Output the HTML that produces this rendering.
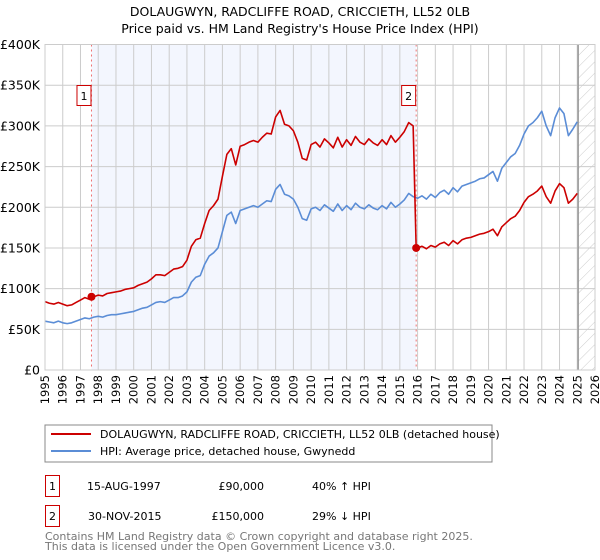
<!DOCTYPE html>
<html><head><meta charset="utf-8"><style>
body{margin:0;background:#fff;width:600px;height:560px;overflow:hidden;font-family:"Liberation Sans","DejaVu Sans",sans-serif;}
svg{position:absolute;left:0;top:0}
</style></head><body>
<svg id="chart" width="600" height="560" font-family="'DejaVu Sans','Liberation Sans',sans-serif">
<text x="300" y="16" text-anchor="middle" font-size="12.5">DOLAUGWYN, RADCLIFFE ROAD, CRICCIETH, LL52 0LB</text>
<text x="300" y="33" text-anchor="middle" font-size="12.5">Price paid vs. HM Land Registry's House Price Index (HPI)</text>
<defs><pattern id="hatch" width="8" height="8" patternUnits="userSpaceOnUse" patternTransform="rotate(45)"><line x1="0" y1="0" x2="0" y2="8" stroke="#ccc" stroke-width="1"/></pattern></defs>
<g id="grid"></g><g id="marks"></g><g id="axes"></g>
<rect x="45" y="425" width="447" height="37" fill="#fff" stroke="#888"/>
<line x1="51" y1="434" x2="91" y2="434" stroke="#cc0000" stroke-width="2"/>
<text x="100" y="438" font-size="11">DOLAUGWYN, RADCLIFFE ROAD, CRICCIETH, LL52 0LB (detached house)</text>
<line x1="51" y1="451" x2="91" y2="451" stroke="#5b8dd6" stroke-width="2"/>
<text x="100" y="455" font-size="11">HPI: Average price, detached house, Gwynedd</text>
<rect x="45.5" y="475.5" width="14" height="21" fill="#fff" stroke="#cc0000"/>
<text x="52.5" y="490" font-size="11" text-anchor="middle">1</text>
<text x="87" y="490" font-size="11">15-AUG-1997</text>
<text x="264" y="490" font-size="11" text-anchor="end">£90,000</text>
<text x="312" y="490" font-size="11">40% ↑ HPI</text>
<rect x="45.5" y="505.5" width="14" height="21" fill="#fff" stroke="#cc0000"/>
<text x="52.5" y="520" font-size="11" text-anchor="middle">2</text>
<text x="88" y="520" font-size="11">30-NOV-2015</text>
<text x="264" y="520" font-size="11" text-anchor="end">£150,000</text>
<text x="312" y="520" font-size="11">29% ↓ HPI</text>
<text x="45" y="540" font-size="11" fill="#777">Contains HM Land Registry data © Crown copyright and database right 2025.</text>
<text x="45" y="550" font-size="11" fill="#777">This data is licensed under the Open Government Licence v3.0.</text>
</svg>
<script>
const yTicks=[0,50,100,150,200,250,300,350,400];
const yTickLabels=["£0","£50K","£100K","£150K","£200K","£250K","£300K","£350K","£400K"];
const xYears=[1995,1996,1997,1998,1999,2000,2001,2002,2003,2004,2005,2006,2007,2008,2009,2010,2011,2012,2013,2014,2015,2016,2017,2018,2019,2020,2021,2022,2023,2024,2025,2026];
const hpiStart=1995.0;
const hpiValues=[60,59,58,60,58,57,58,60,62,64,63,65,66,65,67,68,68,69,70,71,72,74,76,77,80,83,84,83,86,89,89,91,96,108,114,116,130,140,144,150,170,190,194,180,196,198,200,202,200,204,208,207,222,228,216,214,210,200,186,184,198,200,196,203,199,195,204,196,202,197,205,200,198,203,199,197,202,198,206,200,204,209,217,213,211,214,210,216,212,218,221,216,224,219,226,228,230,232,235,236,240,244,232,248,255,262,266,276,290,300,304,310,318,300,288,310,322,315,288,296,305];
const redPreStart=1995.0;
const redPreValues=[84,82,81,83,81,79,80,83,86,89,87,90,92,91,94,95,96,97,99,100,101,104,106,108,112,117,117,116,120,124,125,127,135,152,160,162,180,196,202,210,238,265,272,252,275,277,280,282,280,286,291,290,311,319,302,300,294,280,260,258,277,280,274,284,279,273,286,274,283,276,287,280,277,284,279,276,283,277,288,280,286,293,304,300];
const saleDates=[1997.62,2015.92];
const salePrices=[90,150];
const redPostStart=2016.0;
const redPostValues=[150,152,149,153,151,155,157,153,159,155,160,162,163,165,167,168,170,173,165,176,181,186,189,196,206,213,216,220,226,213,205,220,229,224,205,210,217];

const X0=45,X1=595,Y0=370,Y1=44.5;
const xs=t=>X0+(t-1995)*(X1-X0)/31;
const ys=v=>Y0-v*(Y0-Y1)/400;
const NS="http://www.w3.org/2000/svg";
function mk(tag,attrs,parent){const e=document.createElementNS(NS,tag);for(const k in attrs)e.setAttribute(k,attrs[k]);parent.appendChild(e);return e;}
const grid=document.getElementById('grid'),marks=document.getElementById('marks'),axes=document.getElementById('axes');
let r=mk('rect',{x:xs(saleDates[0]),y:Y1,width:xs(saleDates[1])-xs(saleDates[0]),height:Y0-Y1,fill:'#f3f6fe'},grid);


r=mk('rect',{x:xs(2025.05),y:Y1,width:X1-xs(2025.05),height:Y0-Y1,fill:'url(#hatch)'},grid);


xYears.forEach(yr=>{
  const l=mk('line',{x1:xs(yr),x2:xs(yr),y1:Y1,y2:Y0,stroke:'#ccc'},grid);
  
  
  const t=mk('text',{x:0,y:0,'font-size':11.5,'text-anchor':'end',transform:`translate(${xs(yr)+4},375) rotate(-90)`},axes);
  t.textContent=yr;
  
  
});
yTicks.forEach((v,i)=>{
  const l=mk('line',{x1:X0,x2:X1,y1:ys(v),y2:ys(v),stroke:'#ccc'},grid);
  
  
  const t=mk('text',{x:40,y:ys(v)+4.5,'font-size':12.5,'text-anchor':'end'},axes);
  t.textContent=yTickLabels[i];
  
  
});
const vl=mk('line',{x1:xs(2025.05),x2:xs(2025.05),y1:Y1,y2:Y0,stroke:'#999','stroke-width':1.5},grid);


saleDates.forEach((d,i)=>{
  const l=mk('line',{x1:xs(d),x2:xs(d),y1:Y1,y2:Y0,stroke:'#f07070','stroke-dasharray':'2,3'},grid);
  
  
});
const hpiPts=hpiValues.map((v,i)=>[xs(hpiStart+i*0.25),ys(v)]);
let p=mk('polyline',{points:hpiPts.map(a=>a.join(',')).join(' '),fill:'none',stroke:'#5b8dd6','stroke-width':1.6,'stroke-linejoin':'round'},marks);


const redPts=redPreValues.map((v,i)=>[xs(redPreStart+i*0.25),ys(v)]);
redPts.push([xs(saleDates[1]),ys(salePrices[1])]);
redPostValues.forEach((v,i)=>redPts.push([xs(redPostStart+i*0.25),ys(v)]));
p=mk('polyline',{points:redPts.map(a=>a.join(',')).join(' '),fill:'none',stroke:'#cc0000','stroke-width':1.6,'stroke-linejoin':'round'},marks);


saleDates.forEach((d,i)=>{
  const c=mk('circle',{cx:xs(d),cy:ys(salePrices[i]),r:4,fill:'#cc0000'},marks);
  
  
  const b=mk('rect',{x:xs(d)-14.5,y:85.5,width:14,height:20,fill:'#fff',stroke:'#cc0000'},marks);
  
  
  const t=mk('text',{x:xs(d)-7.5,y:100,'font-size':11,'text-anchor':'middle'},marks);
  t.textContent=String(i+1);
  
  
});
const bd=mk('rect',{x:X0,y:Y1,width:X1-X0,height:Y0-Y1,fill:'none',stroke:'#ccc'},axes);


</script>
</body></html>
